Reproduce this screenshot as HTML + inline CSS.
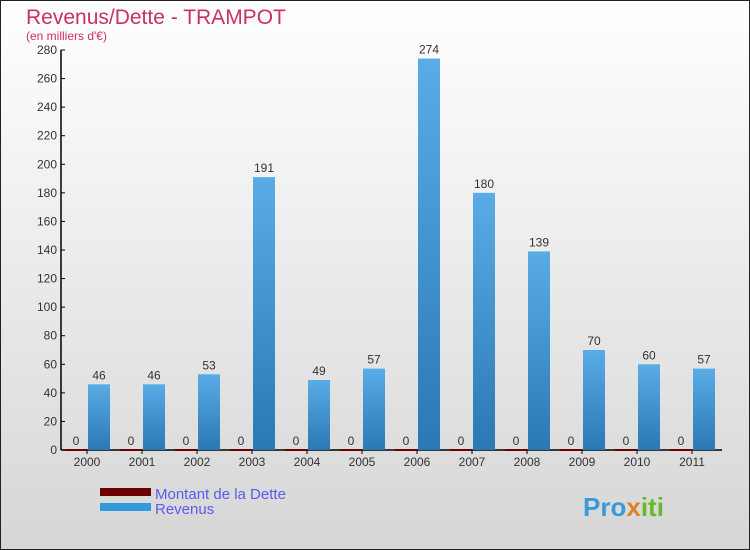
<!DOCTYPE html>
<html><head><meta charset="utf-8"><style>
body{margin:0}
svg{display:block;font-family:"Liberation Sans",sans-serif}
</style></head><body>
<svg width="750" height="550">
<defs>
<linearGradient id="bg" x1="0" y1="0" x2="0" y2="1"><stop offset="0" stop-color="#ffffff"/><stop offset="1" stop-color="#d6d6d6"/></linearGradient>
<linearGradient id="rev" x1="0" y1="0" x2="0" y2="1"><stop offset="0" stop-color="#5aace6"/><stop offset="1" stop-color="#2a78b4"/></linearGradient>
</defs>
<rect x="0.5" y="0.5" width="749" height="549" fill="url(#bg)" stroke="#222"/>
<text x="26" y="24" font-size="21" fill="#c8325e">Revenus/Dette - TRAMPOT</text>
<text x="26" y="40" font-size="12" fill="#c8325e">(en milliers d'€)</text>
<g id="plot"></g>
<g>
<rect x="100" y="488" width="51" height="8" fill="#6a0000"/>
<text x="155" y="499" font-size="15" fill="#5a5af0">Montant de la Dette</text>
<rect x="100" y="503" width="51" height="8" fill="#3399dd"/>
<text x="155" y="514" font-size="15" fill="#5a5af0">Revenus</text>
</g>
<text x="583" y="516" font-size="26" font-weight="bold" fill="#3a9ad9">Pro<tspan fill="#e08020">x</tspan><tspan fill="#6ab82a">iti</tspan></text>
</svg>
<script>
const years=["2000","2001","2002","2003","2004","2005","2006","2007","2008","2009","2010","2011"];
const dette=[0,0,0,0,0,0,0,0,0,0,0,0];
const revenus=[46,46,53,191,49,57,274,180,139,70,60,57];
const yTicks=[0,20,40,60,80,100,120,140,160,180,200,220,240,260,280];
const NS="http://www.w3.org/2000/svg";
const g=document.getElementById('plot');
const y0=450,yTop=50,yMax=280;
function y(v){return y0-(v/yMax)*(y0-yTop);}
function xt(i){return 87+55*i;}
function mk(t,a,txt){const e=document.createElementNS(NS,t);for(const k in a)e.setAttribute(k,a[k]);if(txt!==undefined)e.textContent=txt;g.appendChild(e);return e;}
let ax=mk('line',{x1:61,y1:y0,x2:722,y2:y0,stroke:'#000','stroke-width':1.5});


let ay=mk('line',{x1:61,y1:yTop,x2:61,y2:y0,stroke:'#000','stroke-width':1.5});


yTicks.forEach(v=>{
 let l=mk('line',{x1:61,y1:y(v),x2:65,y2:y(v),stroke:'#000'});
 
 
 let t=mk('text',{x:57,y:y(v)+4,'font-size':12,fill:'#333','text-anchor':'end'},String(v));
 
 
});
years.forEach((yr,i)=>{
 const x=xt(i);
 let tk=mk('line',{x1:x,y1:y0,x2:x,y2:y0+4,stroke:'#000'});
 
 
 let tl=mk('text',{x:x,y:y0+16,'font-size':12,fill:'#333','text-anchor':'middle'},yr);
 
 
 let bd=mk('rect',{x:x-22,y:y(dette[i])-1,width:22,height:Math.max(1,y0-y(dette[i]))+1,fill:'#6a0000'});
 
 
 let ld=mk('text',{x:x-11,y:y(dette[i])-5,'font-size':12,fill:'#333','text-anchor':'middle'},String(dette[i]));
 
 
 let br=mk('rect',{x:x+1,y:y(revenus[i]),width:22,height:y0-y(revenus[i]),fill:'url(#rev)'});
 
 
 let lr=mk('text',{x:x+12,y:y(revenus[i])-5,'font-size':12,fill:'#333','text-anchor':'middle'},String(revenus[i]));
 
 
});
</script>
</body></html>
